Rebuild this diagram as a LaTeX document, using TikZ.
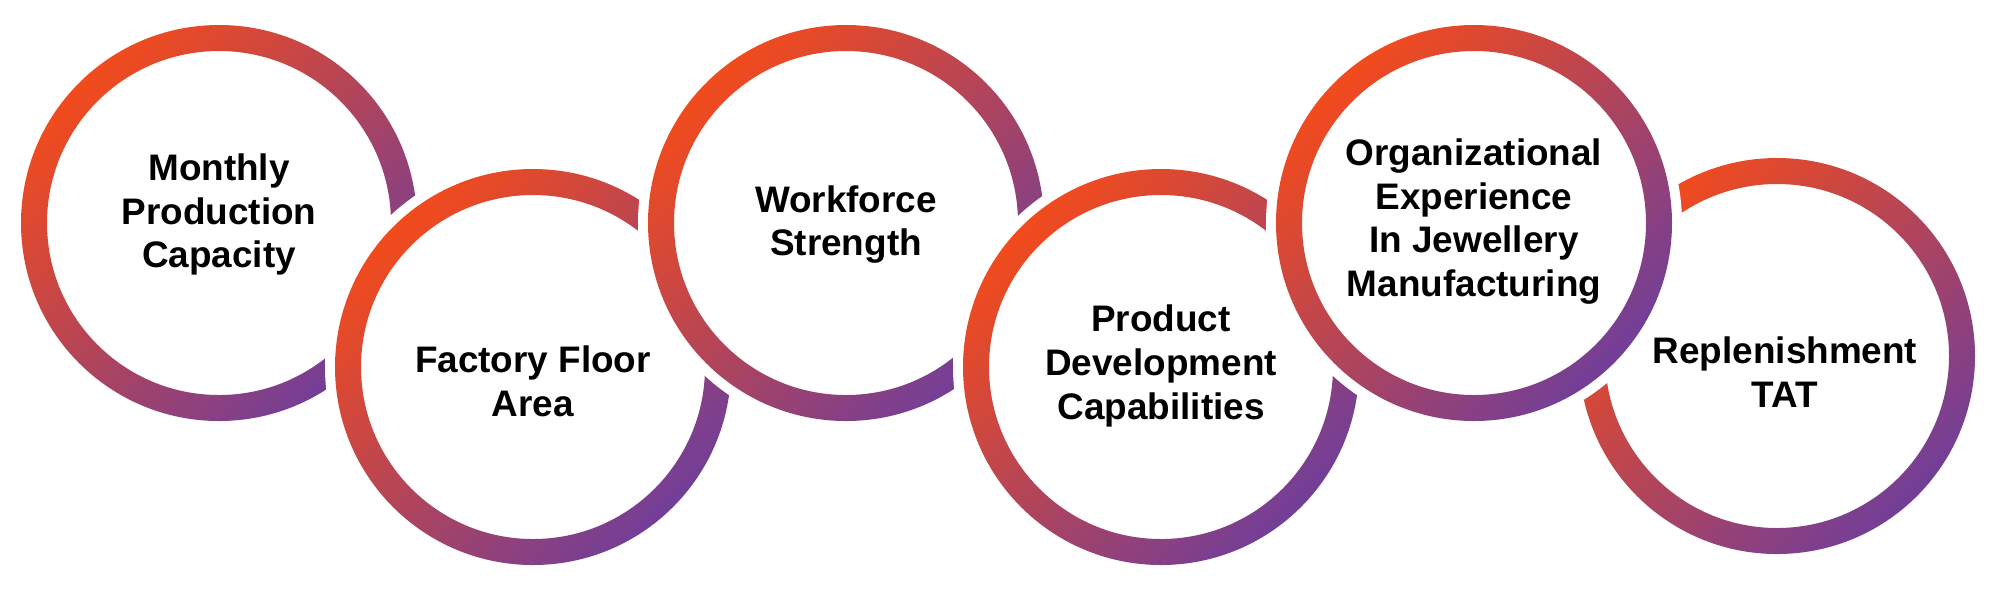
\documentclass[tikz,border=0pt]{standalone}
\usepackage{fontspec}
\setmainfont{Liberation Sans}
\definecolor{rorange}{RGB}{242,75,28}
\definecolor{rpurple}{RGB}{114,62,152}
\begin{document}
\begin{tikzpicture}[
    ring/.style={even odd rule, top color=rorange, bottom color=rpurple, shading angle=45},
    lbl/.style={align=center, inner sep=0pt, font=\fontsize{10.5}{12.5}\selectfont\bfseries}]
  \useasboundingbox (0,0) rectangle (20,-5.99);
  \coordinate (c1) at (2.19,-2.23);
  \coordinate (c2) at (5.33,-3.67);
  \coordinate (c3) at (8.46,-2.23);
  \coordinate (c4) at (11.61,-3.67);
  \coordinate (c5) at (14.74,-2.23);
  \coordinate (c6) at (17.77,-3.56);
  % rings, the fifth one over the sixth
  \foreach \cc in {c1,c2,c3,c4,c6,c5} {
    \fill[white] (\cc) circle (2.08);
    \shade[ring] (\cc) circle (1.98) (\cc) circle (1.72);
  }
  \node[lbl] (m1) at (2.19,-2.145) {Monthly\\Production\\Capacity};
  \node[lbl] (m2) at (5.33,-3.81) {Factory Floor\\Area};
  \node[lbl] (m3) at (8.46,-2.245) {Workforce\\Strength};
  \node[lbl] (m4) at (11.61,-3.66) {Product\\Development\\Capabilities};
  \node[lbl] (m5) at (14.74,-2.215) {Organizational\\Experience\\In Jewellery\\Manufacturing};
  \node[lbl] (m6) at (17.85,-3.725) {Replenishment\\TAT};
\end{tikzpicture}
\end{document}
